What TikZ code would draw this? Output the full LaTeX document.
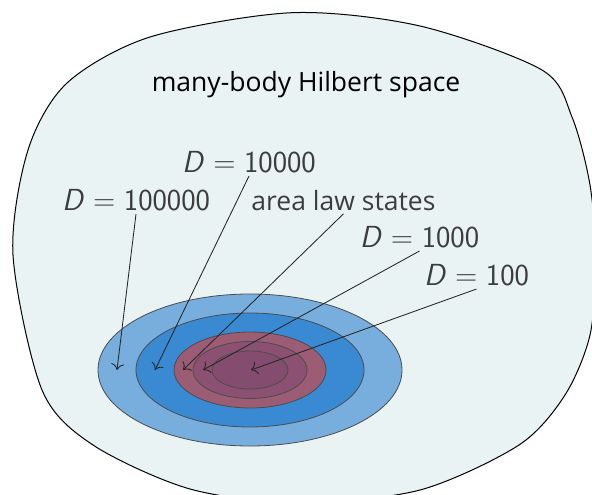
\documentclass[tikz,border=0pt]{standalone}
\usepackage{fontspec}
\setmainfont{Open Sans}
\usetikzlibrary{arrows.meta}

\definecolor{hilbertfill}{HTML}{EAF3F4}
\definecolor{ringA}{HTML}{78AEDE}
\definecolor{ringB}{HTML}{3A89D3}
\definecolor{ringC}{HTML}{9C5C74}
\definecolor{ringD}{HTML}{8C5172}
\definecolor{ringE}{HTML}{844C6E}
\definecolor{labelgray}{HTML}{3C3C3C}

\newcommand{\Dlabel}[1]{\textit{D}\hspace{.28em}=\hspace{.28em}#1}

\begin{document}
\begin{tikzpicture}[x=1pt,y=-1pt,
  >={Computer Modern Rightarrow[scale=1.8]},
  ring/.style={draw=black!70,line width=.8pt},
  dlabel/.style={font=\fontsize{30.5}{36}\selectfont\sffamily,text=labelgray,anchor=base},
  heading/.style={font=\fontsize{26.5}{32}\selectfont,anchor=base},
  pointer/.style={->,line width=.85pt,draw=black!85}]
\useasboundingbox (0,0) rectangle (592,495);
% the many-body Hilbert space
\draw[fill=hilbertfill,line width=1pt] plot[smooth cycle] coordinates {
  (13,255) (28,150) (67,83) (150,37) (292,12.7) (420,26) (542,70) (572,117)
  (590,185) (596,260) (590,335) (565,395) (519,445) (420,490) (300,503)
  (190,489) (93,445) (42,390)};
\node[heading] (hilbert) at (306,92) {many-body Hilbert space};
% nested sets of states
\draw[ring,fill=ringA] (250,370) ellipse [x radius=152pt,y radius=76pt];
\draw[ring,fill=ringB] (250,370) ellipse [x radius=114pt,y radius=57pt];
\draw[ring,fill=ringC] (250,370) ellipse [x radius=76pt,y radius=38pt];
\draw[ring,fill=ringD] (250,370) ellipse [x radius=57pt,y radius=28.5pt];
\draw[ring,fill=ringE] (250,370) ellipse [x radius=38pt,y radius=19pt];
\coordinate (inD5) at (117,370);
\coordinate (inD4) at (155,370);
\coordinate (inArea) at (183,370);
\coordinate (inD3) at (203,370);
\coordinate (inD2) at (251,370);
% labels
\node[dlabel] (lD4) at (249,172) {\Dlabel{10000}};
\node[dlabel] (lD5) at (136,210) {\Dlabel{100000}};
\node[heading,text=labelgray] (lArea) at (343.5,210) {area law states};
\node[dlabel] (lD3) at (419.5,247) {\Dlabel{1000}};
\node[dlabel] (lD2) at (476.5,285) {\Dlabel{100}};
\draw[pointer] (lD5.south) -- (inD5);
\draw[pointer] (lD4.south) -- (inD4);
\draw[pointer] (lArea.south) -- (inArea);
\draw[pointer] (lD3.south) -- (inD3);
\draw[pointer] (lD2.south) -- (inD2);
\end{tikzpicture}
\end{document}
